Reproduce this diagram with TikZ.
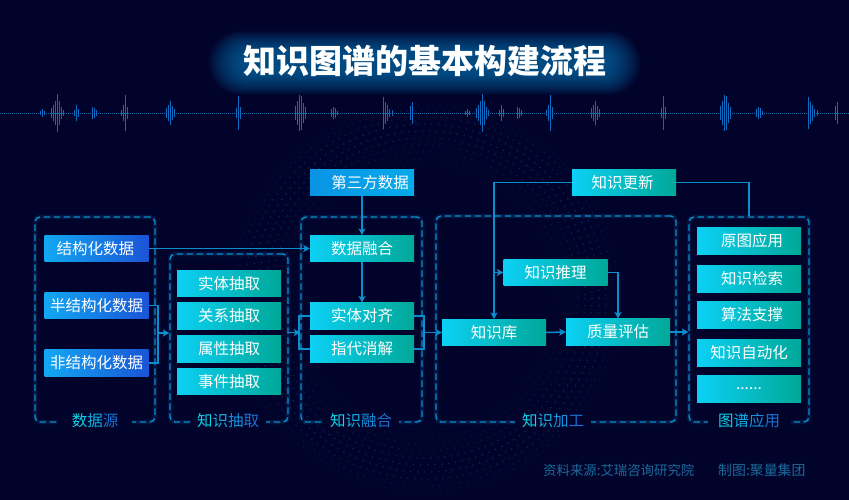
\documentclass[tikz,border=0pt]{standalone}
\usepackage{fontspec}
\setmainfont{Noto Sans CJK SC}
\usetikzlibrary{arrows.meta,calc}
\definecolor{bg}{HTML}{01032B}
\definecolor{line}{HTML}{0A8ECC}
\definecolor{wave}{HTML}{1C82C8}
\definecolor{burstc}{HTML}{0E6CC0}
\definecolor{ga}{HTML}{10D2E8}
\definecolor{gb}{HTML}{0FB0E0}
\definecolor{gc}{HTML}{1490DC}
\definecolor{gd}{HTML}{1A70D0}
\definecolor{foot}{HTML}{1A6A9C}
\definecolor{glow}{HTML}{0C74B4}
\definecolor{SrcL}{HTML}{12A8F2}
\definecolor{SrcR}{HTML}{1A54D6}
\definecolor{ThirdL}{HTML}{0A94E4}
\definecolor{ThirdR}{HTML}{04AAEA}
\definecolor{TealL}{HTML}{0CD0F4}
\definecolor{TealR}{HTML}{00A898}
\newcommand{\gradthree}[3]{\textcolor{ga}{#1}\textcolor{gb}{#2}\textcolor{gd}{#3}}
\newcommand{\gradfour}[4]{\textcolor{ga}{#1}\textcolor{gb}{#2}\textcolor{gc}{#3}\textcolor{gd}{#4}}
\newcommand{\burst}[1]{\foreach \bx/\bh in {#1}{%
  \fill[burstc] (\bx-.1,113.5-\bh) rectangle (\bx+1.1,113.5+\bh);
  \fill[burstc] (\bx+424.9,113.5-\bh) rectangle (\bx+426.1,113.5+\bh);}}
\tikzset{
  x=1pt,y=-1pt,
  boxbase/.style={minimum width=104pt,minimum height=26.5pt,inner sep=0pt,text=white,font=\fontsize{15.5}{15.5}\selectfont},
  srcbox/.style={boxbase,left color=SrcL,right color=SrcR},
  thirdbox/.style={boxbase,left color=ThirdL,right color=ThirdR},
  tealbox/.style={boxbase,left color=TealL,right color=TealR},
  groupbox/.style={rounded corners=5pt,line width=1.4pt,draw=line,dash pattern=on 6.5pt off 3.5pt},
  groupglow/.style={rounded corners=5pt,line width=4.5pt,draw=line,draw opacity=.13},
  grouplabel/.style={fill=bg,inner sep=0pt,minimum height=16pt,font=\fontsize{15.5}{15.5}\selectfont},
  conn/.style={line,line width=1.5pt},
  arrowconn/.style={conn,-{Stealth[length=6.5pt,width=7pt,inset=1.5pt]}},
  footnote/.style={text=foot,inner sep=0pt},
}
\begin{document}
\begin{tikzpicture}
\useasboundingbox (0,0) rectangle (849,500);
\fill[bg] (0,0) rectangle (849,500);
% concentric dotted rings
\foreach \r/\o in {132/.07,139/.11,146/.15,153/.20,160/.24,167/.28,174/.28,181/.23,188/.16,193/.10}{
  \draw[wave,line width=1.3pt,draw opacity=\o,dash pattern=on 1.3pt off 5.7pt] (425,298) circle (\r);
}
% title glow
\foreach \i in {0,1,...,21}{
  \pgfmathsetmacro{\w}{216-1.5*\i}
  \pgfmathsetmacro{\h}{32-1.0*\i}
  \pgfmathsetmacro{\c}{max(\h,3)}
  \fill[rounded corners=\c pt,fill=glow,fill opacity=.05] (424.5-\w,63-\h) rectangle (424.5+\w,63+\h);
}
\node[inner sep=0pt,text=white,font=\fontsize{33}{33}\selectfont\bfseries] (title) at (424.5,61) {知识图谱的基本构建流程};
% waveform
\draw[wave!80!bg,line width=1pt,dash pattern=on 1pt off 1pt] (0,113.5) -- (849,113.5);
\burst{40/2,42/4,44/2,51/5,53/8,55/12,57/19,59/12,61/6,63/3,74/3,76/8,78/4,92/6,94/5,96/3,121/3,123/8,125/18,127/6,166/5,168/8,170/12,172/7,174/4,236/5,238/17,240/6,295/7,297/12,299/18,301/17,303/10,305/6,331/4,333/6,335/5,337/2,383/16,385/11,387/8,389/4,392/3,410/7,412/11}
% groups
\foreach \xa/\ya/\xb/\yb in {35/217/155/422,170/254/288/422,301/217/422/422,436/216/676/422,689/217/809/422}{
  \draw[groupglow] (\xa,\ya) rectangle (\xb,\yb);
}
\node[groupbox,minimum width=120pt,minimum height=205pt,inner sep=0pt] (g1) at (95,319.5) {};
\node[groupbox,minimum width=118pt,minimum height=168pt,inner sep=0pt] (g2) at (229,338) {};
\node[groupbox,minimum width=121pt,minimum height=205pt,inner sep=0pt] (g3) at (361.5,319.5) {};
\node[groupbox,minimum width=240pt,minimum height=206pt,inner sep=0pt] (g4) at (556,319) {};
\node[groupbox,minimum width=120pt,minimum height=205pt,inner sep=0pt] (g5) at (749,319.5) {};
\node[grouplabel,minimum width=74pt] (l1) at (95,421) {\gradthree{数}{据}{源}};
\node[grouplabel,minimum width=75pt] (l2) at (228,421) {\gradfour{知}{识}{抽}{取}};
\node[grouplabel,minimum width=76pt] (l3) at (361,421) {\gradfour{知}{识}{融}{合}};
\node[grouplabel,minimum width=76pt] (l4) at (553,421) {\gradfour{知}{识}{加}{工}};
\node[grouplabel,minimum width=83pt] (l5) at (749,421) {\gradfour{图}{谱}{应}{用}};
% sources
\node[srcbox] (stru) at (96.5,248.5) {\hspace*{-2pt}结构化数据};
\node[srcbox] (semi) at (96.5,305.5) {半结构化数据};
\node[srcbox] (unst) at (96.5,363) {非结构化数据};
% extraction
\node[tealbox] (e1) at (229,283.5) {实体抽取};
\node[tealbox] (e2) at (229,316) {关系抽取};
\node[tealbox] (e3) at (229,349) {属性抽取};
\node[tealbox] (e4) at (229,381.5) {事件抽取};
% fusion
\node[thirdbox,text width=104pt,align=center] (third) at (362,182.5) {\hspace*{16pt}第三方数据};
\node[tealbox] (merge) at (362,248.5) {数据融合};
\node[tealbox] (align) at (362,316) {实体对齐};
\node[tealbox] (coref) at (362,349) {指代消解};
% processing
\node[tealbox] (kb) at (494,332.5) {知识库};
\node[tealbox] (qa) at (618,332) {质量评估};
\node[tealbox] (infer) at (555.5,272.5) {知识推理};
\node[tealbox] (upd) at (624,182.5) {\hspace*{-3pt}知识更新};
% applications
\node[tealbox,text width=104pt,align=center] (a1) at (749,241) {\hspace*{6pt}原图应用};
\node[tealbox,text width=104pt,align=center] (a2) at (749,279) {\hspace*{6pt}知识检索};
\node[tealbox,text width=104pt,align=center] (a3) at (749,315) {\hspace*{6pt}算法支撑};
\node[tealbox] (a4) at (749,353) {知识自动化};
\node[tealbox] (a5) at (749,389) {......};
% junctions
\coordinate (j1) at (158,333);
\coordinate (j2) at (288,332.5);
\coordinate (j3) at (299,332.5);
\coordinate (j4) at (424,332.5);
% connectors
\draw[arrowconn] (stru.east) -- (merge.west);
\draw[conn] (semi.east) -| (j1);
\draw[conn] (unst.east) -| (j1);
\draw[arrowconn] (j1) -- (j1 -| g2.west);
\draw[arrowconn] (j2) -- (j2 -| g3.west);
\draw[conn] (align.west) -| (j3);
\draw[conn] (coref.west) -| (j3);
\draw[conn] (align.east) -| (j4);
\draw[conn] (coref.east) -| (j4);
\draw[arrowconn] (j4) -- (j4 -| kb.west);
\draw[arrowconn] (third.south) -- (merge.north);
\draw[arrowconn] (merge.south) -- (align.north);
\draw[arrowconn] (kb.east) -- (qa.west);
\draw[arrowconn] (upd.west) -| (kb.north);
\draw[arrowconn] (infer.west -| kb.north) -- (infer.west);
\draw[arrowconn] (infer.east) -| (qa.north);
\draw[conn] (upd.east) -| (g5.north);
\draw[arrowconn] (qa.east) -- (qa.east -| g5.west);
% footer
\node[footnote,anchor=west,font=\fontsize{13.4}{13.4}\selectfont] (src) at (543,470) {资料来源:艾瑞咨询研究院};
\node[footnote,anchor=west,font=\fontsize{13.9}{13.9}\selectfont] (mk) at (718,470) {制图:聚量集团};
\end{tikzpicture}
\end{document}
